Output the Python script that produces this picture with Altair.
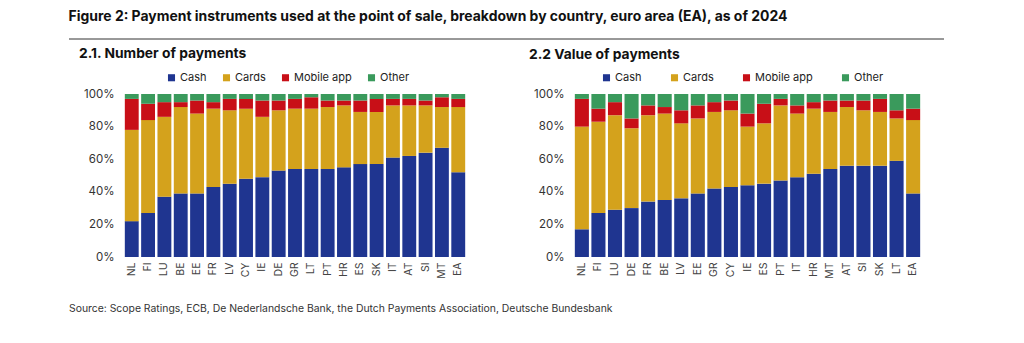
import altair as alt
import pandas as pd

series = ["Cash", "Cards", "Mobile app", "Other"]
colors = ["#1f3590", "#d4a21c", "#c80f17", "#3a9a5c"]

countries_num = ["NL", "FI", "LU", "BE", "EE", "FR", "LV", "CY", "IE", "DE", "GR",
                 "LT", "PT", "HR", "ES", "SK", "IT", "AT", "SI", "MT", "EA"]
cash_num = [22, 27, 37, 39, 39, 43, 45, 48, 49, 53, 54, 54, 54, 55, 57, 57, 61, 62, 64, 67, 52]
cards_num = [56, 57, 49, 53, 49, 48, 45, 43, 37, 37, 37, 37, 38, 38, 32, 32, 32, 31, 29, 25, 40]
mobile_num = [19, 10, 9, 3, 8, 4, 7, 6, 10, 6, 6, 7, 4, 3, 7, 8, 4, 4, 3, 6, 5]
other_num = [3, 6, 5, 5, 4, 5, 3, 3, 4, 4, 3, 2, 4, 4, 4, 3, 3, 3, 4, 2, 3]

countries_val = ["NL", "FI", "LU", "DE", "FR", "BE", "LV", "EE", "GR", "CY", "IE",
                 "ES", "PT", "IT", "HR", "MT", "AT", "SI", "SK", "LT", "EA"]
cash_val = [17, 27, 29, 30, 34, 35, 36, 39, 42, 43, 44, 45, 47, 49, 51, 54, 56, 56, 56, 59, 39]
cards_val = [63, 56, 58, 49, 53, 53, 46, 46, 47, 47, 36, 37, 46, 39, 40, 35, 36, 34, 33, 26, 45]
mobile_val = [17, 8, 8, 6, 6, 4, 8, 8, 6, 6, 8, 12, 4, 5, 4, 7, 4, 6, 8, 5, 7]
other_val = [3, 9, 5, 15, 7, 8, 10, 7, 5, 4, 12, 6, 3, 7, 5, 4, 4, 4, 3, 10, 9]

fig_title = "Figure 2: Payment instruments used at the point of sale, breakdown by country, euro area (EA), as of 2024"
source_text = "Source: Scope Ratings, ECB, De Nederlandsche Bank, the Dutch Payments Association, Deutsche Bundesbank"

PLOT_H = 163


def make_df(countries, cash, cards, mobile, other):
    rows = []
    for i, c in enumerate(countries):
        for k, vals in enumerate([cash, cards, mobile, other]):
            rows.append({"country": c, "instrument": series[k], "share": vals[i], "rank": k})
    return pd.DataFrame(rows)


def make_bars(df, countries, width, legend_x, col_pad):
    return alt.Chart(df).mark_bar(stroke=None).encode(
        x=alt.X("country:N", sort=countries,
                scale=alt.Scale(paddingInner=0.15, paddingOuter=0.05),
                axis=alt.Axis(title=None, labelAngle=270, ticks=False, domain=False,
                              labelFontSize=10.5, labelColor="#444444", labelPadding=5,
                              labelAlign="right", labelBaseline="middle")),
        y=alt.Y("share:Q", stack="zero",
                scale=alt.Scale(domain=[0, 100], nice=False),
                axis=alt.Axis(title=None, values=[0, 20, 40, 60, 80, 100],
                              labelExpr="datum.value + '%'", ticks=False, domain=False,
                              grid=False, labelFontSize=11.5, labelColor="#333333",
                              labelPadding=10)),
        color=alt.Color("instrument:N",
                        scale=alt.Scale(domain=series, range=colors),
                        legend=alt.Legend(orient="none", legendX=legend_x, legendY=-22,
                                          direction="horizontal", title=None,
                                          symbolType="square", symbolSize=50,
                                          symbolStrokeWidth=0, labelFontSize=11,
                                          labelColor="#222222", columnPadding=col_pad,
                                          labelOffset=3)),
        order=alt.Order("rank:Q"),
    ).properties(width=width, height=PLOT_H)


df_num = make_df(countries_num, cash_num, cards_num, mobile_num, other_num)
df_val = make_df(countries_val, cash_val, cards_val, mobile_val, other_val)

bars_left = make_bars(df_num, countries_num, 342, 42, 14)
bars_right = make_bars(df_val, countries_val, 347, 27, 27)

rule = alt.Chart(pd.DataFrame({"a": [0]})).mark_rule(color="#333333", strokeWidth=1).encode(
    x=alt.value(-55), x2=alt.value(820), y=alt.value(-55))
source = alt.Chart(pd.DataFrame({"t": [source_text]})).mark_text(
    align="left", baseline="middle", fontSize=10.4, color="#333333").encode(
    text="t:N", x=alt.value(-55), y=alt.value(215))

left = alt.layer(bars_left, rule, source).properties(
    title=alt.TitleParams("2.1. Number of payments", anchor="start", frame="group",
                          dx=-45, offset=0, dy=22, fontSize=13.8, fontWeight="bold",
                          color="#111111"))
right = bars_right.properties(
    title=alt.TitleParams("2.2 Value of payments", anchor="start", frame="group",
                          dx=-45, offset=10, fontSize=13.8, fontWeight="bold",
                          color="#111111"))

chart = alt.hconcat(left, right, spacing=108, bounds="flush").resolve_scale(
    color="independent").properties(
    title=alt.TitleParams(fig_title, anchor="start", fontSize=13.95, fontWeight="bold",
                          color="#111111", offset=15),
    padding={"left": 68, "top": 9, "right": 5, "bottom": 5},
    background="white",
).configure(font="Inter").configure_view(stroke=None)

chart.save("out.html", embed_options={"renderer": "svg", "actions": False})
